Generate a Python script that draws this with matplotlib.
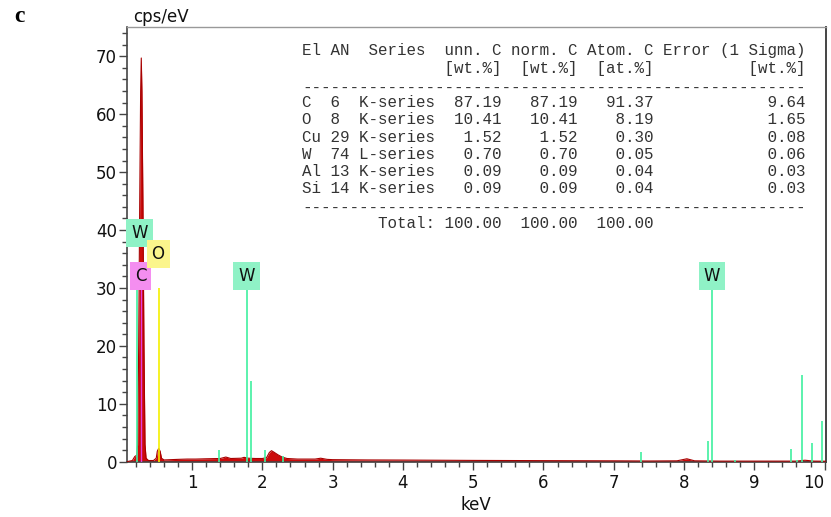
import matplotlib
matplotlib.use("Agg")
import matplotlib.pyplot as plt
from matplotlib.ticker import MultipleLocator

spec_kev = [0.07, 0.15, 0.185, 0.20, 0.215, 0.225, 0.24, 0.255, 0.268, 0.277,
            0.286, 0.30, 0.315, 0.33, 0.345, 0.38, 0.45, 0.49, 0.505, 0.525,
            0.545, 0.565, 0.60, 0.70, 0.80, 0.93, 1.05, 1.20, 1.40, 1.48,
            1.55, 1.70, 1.74, 1.80, 1.90, 2.00, 2.06, 2.10, 2.13, 2.17,
            2.22, 2.28, 2.35, 2.50, 2.75, 2.83, 2.92, 3.00, 3.50, 4.00,
            4.50, 5.00, 6.00, 7.00, 7.50, 7.90, 8.04, 8.15, 8.50, 9.00,
            9.60, 9.72, 9.85, 10.02]
spec_cps = [0.0, 0.2, 0.9, 1.0, 1.2, 3.0, 20.0, 45.0, 64.0, 69.7,
            64.0, 45.0, 20.0, 3.0, 0.6, 0.2, 0.2, 0.6, 1.8, 2.3,
            1.8, 0.6, 0.3, 0.35, 0.4, 0.45, 0.45, 0.5, 0.55, 0.8,
            0.55, 0.6, 0.75, 0.6, 0.55, 0.55, 0.7, 1.6, 1.9, 1.6,
            1.2, 0.8, 0.55, 0.45, 0.45, 0.6, 0.4, 0.35, 0.3, 0.28,
            0.25, 0.22, 0.18, 0.15, 0.12, 0.15, 0.5, 0.15, 0.1, 0.1,
            0.1, 0.25, 0.1, 0.08]

# element marker lines
w_kev = [0.21, 1.38, 1.775, 1.835, 2.035, 2.30, 7.387, 8.335, 8.398, 8.724,
         9.525, 9.61, 9.672, 9.818, 9.962]
w_cps = [30, 2.1, 30, 13.9, 2.0, 0.9, 1.6, 3.5, 30, 0.3,
         2.2, 0.3, 15.0, 3.3, 7.0]
c_kev, c_cps = 0.277, 30
o_kev, o_cps = 0.525, 30

# (text, keV, cps, colour) for the marker labels
marker_labels = [("W", 0.25, 39.5, "#8ff2c6"),
                 ("C", 0.267, 32.0, "#f48ef0"),
                 ("O", 0.516, 35.8, "#fbf58c"),
                 ("W", 1.775, 32.0, "#8ff2c6"),
                 ("W", 8.398, 32.0, "#8ff2c6")]

# quantification table
table_header = ["El AN  Series  unn. C norm. C Atom. C Error (1 Sigma)",
                "               [wt.%]  [wt.%]  [at.%]          [wt.%]"]
el = ["C", "O", "Cu", "W", "Al", "Si"]
an = [6, 8, 29, 74, 13, 14]
series = ["K-series", "K-series", "K-series", "L-series", "K-series", "K-series"]
unn_c = [87.19, 10.41, 1.52, 0.70, 0.09, 0.09]
norm_c = [87.19, 10.41, 1.52, 0.70, 0.09, 0.09]
atom_c = [91.37, 8.19, 0.30, 0.05, 0.04, 0.04]
err = [9.64, 1.65, 0.08, 0.06, 0.03, 0.03]
totals = [100.00, 100.00, 100.00]

fig = plt.figure(figsize=(8.31, 5.17), dpi=100)
ax = fig.add_axes([0.1525, 0.107, 0.994 - 0.1525, 0.9472 - 0.107])

ax.fill_between(spec_kev, spec_cps, 0, color="#cc0a0a", lw=0, zorder=2)
ax.plot(spec_kev, spec_cps, color="#a80000", lw=0.8, zorder=3)

ax.vlines(w_kev, 0, w_cps, color="#3ff0a0", lw=1.2, zorder=4)
ax.vlines([c_kev], 0, [c_cps], color="#e040e0", lw=1.0, zorder=4)
ax.vlines([o_kev], 0, [o_cps], color="#f5f000", lw=1.2, zorder=4)

for txt, x, y, col in marker_labels:
    ax.text(x, y, txt, ha="center", va="center", fontsize=12, color="#111",
            zorder=6, bbox=dict(boxstyle="square,pad=0.3", fc=col, ec="none"))

ax.set_xlim(0.07, 10.02)
ax.set_ylim(0, 75)
ax.xaxis.set_minor_locator(MultipleLocator(0.2))
ax.yaxis.set_major_locator(MultipleLocator(10))
ax.yaxis.set_minor_locator(MultipleLocator(2))
ax.set_xticks(range(1, 11))
ax.tick_params(which="major", length=6, width=1, color="#444", labelsize=12,
               labelcolor="#111")
ax.tick_params(which="minor", length=3.5, width=1, color="#444")
ax.tick_params(axis="y", pad=1)
ax.tick_params(axis="x", pad=3)
# the "10" label sits left of its tick so it stays inside the frame
ax.get_xticklabels()[-1].set_horizontalalignment("right")
for s in ["left", "bottom"]:
    ax.spines[s].set_color("#444")
    ax.spines[s].set_linewidth(1.2)
ax.spines["top"].set_color("#999")
ax.spines["top"].set_linewidth(1.0)
ax.spines["right"].set_color("#444")
ax.spines["right"].set_linewidth(1.4)

ax.set_xlabel("keV", fontsize=12, color="#111")
ax.xaxis.set_label_coords(0.5, -0.078)
fig.text(133 / 831, 1 - 17 / 517, "cps/eV", fontsize=12, color="#111",
         ha="left", va="center")
fig.text(14 / 831, 1 - 17 / 517, "c", fontsize=17, fontweight="bold",
         family="Liberation Serif", ha="left", va="center")

# table as monospaced text lines
rows = list(table_header)
rows.append("-" * 53)
for i in range(len(el)):
    rows.append(f"{el[i]:<3}{an[i]:<3}{series[i]}{unn_c[i]:>7.2f}"
                f"{norm_c[i]:>8.2f}{atom_c[i]:>8.2f}{err[i]:>16.2f}")
rows.append("-" * 53)
rows.append(f"{'Total:':>14}{totals[0]:>7.2f}{totals[1]:>8.2f}"
            f"{totals[2]:>8.2f}")
for i, line in enumerate(rows):
    dy = 3 if line.startswith("-") else 0
    fig.text(302 / 831, 1 - (51 + 17.2 * i + dy) / 517, line,
             family="Liberation Mono", fontsize=11.45, color="#333",
             ha="left", va="center")

fig.savefig("out.png", dpi=100)
